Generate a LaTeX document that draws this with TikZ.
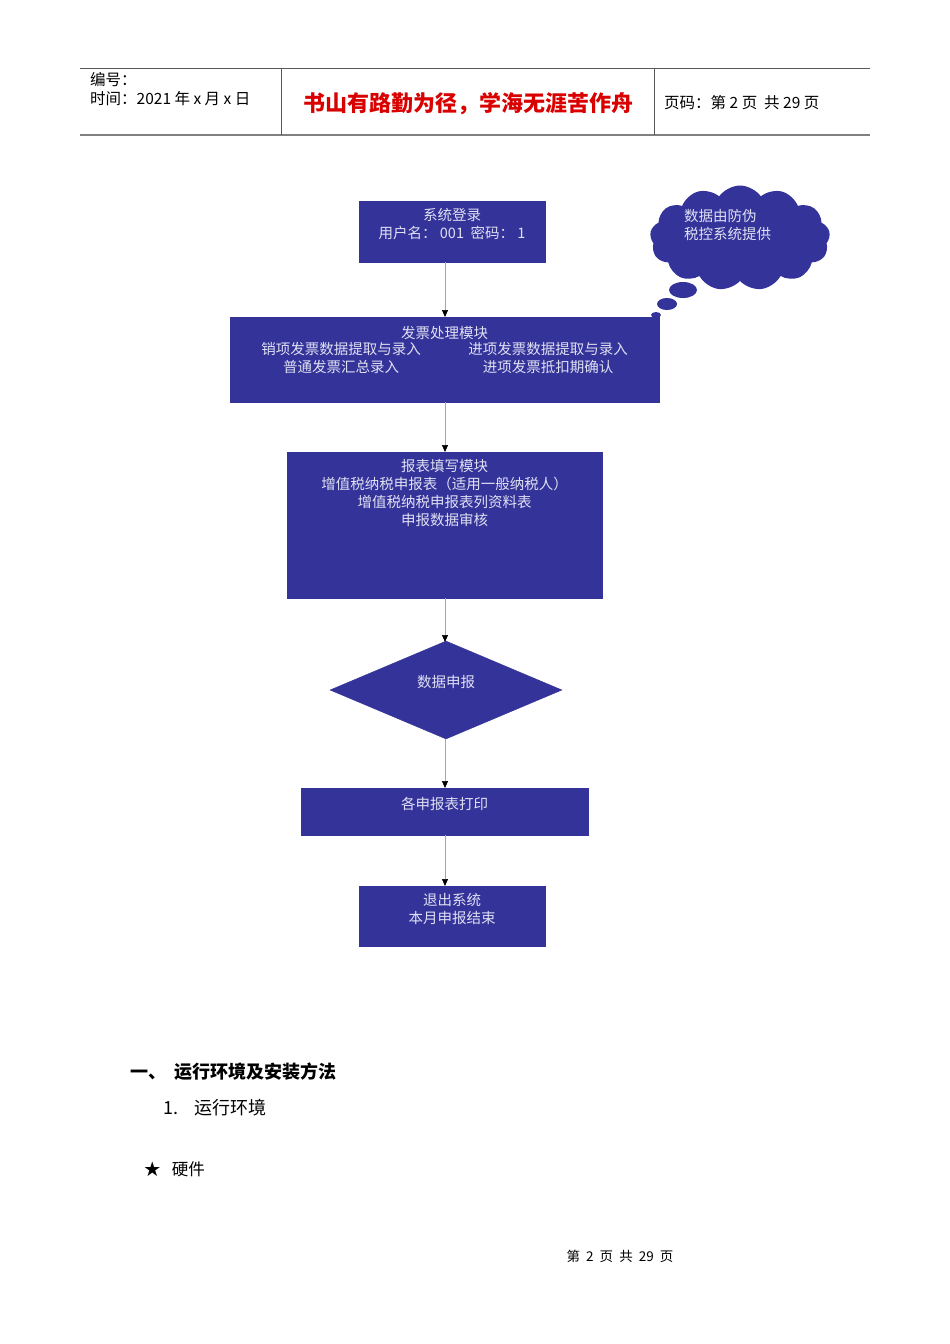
\documentclass[tikz,border=0pt]{standalone}
\usepackage{fontspec}
\setmainfont{Noto Sans CJK SC}
\usetikzlibrary{shapes.symbols,shapes.geometric,arrows.meta}
\definecolor{boxblue}{HTML}{333399}
\definecolor{boxtext}{HTML}{E0E0F4}
\tikzset{
 fbox/.style={fill=boxblue,draw=boxblue,text=boxtext,font=\fontsize{14.5}{18}\selectfont,align=center,inner sep=0pt},
 flow/.style={draw=gray!70,line width=0.6pt,-{Triangle[length=7pt,width=6pt,fill=black,color=black]}},
 hdr/.style={font=\fontsize{15.5}{19}\selectfont,anchor=west,inner sep=0pt}
}
\begin{document}
\begin{tikzpicture}[x=1pt,y=-1pt]
\useasboundingbox (0,0) rectangle (950,1344);
\fill[white] (0,0) rectangle (950,1344);
% header
\draw[line width=0.8pt,gray!70!black] (80,68) -- (870,68);
\draw[line width=1.2pt,gray] (80,135) -- (870,135);
\draw[gray!70!black] (281,68) -- (281,135) (654,68) -- (654,135);
\node[hdr] (h1) at (90,80) {编号：};
\node[hdr] (h2) at (90,99) {时间：2021 年 x 月 x 日};
\node[font=\fontsize{22}{24}\selectfont\bfseries,text=red!85!black,inner sep=0pt] (h3) at (468,104) {书山有路勤为径，学海无涯苦作舟};
\node[hdr] (h4) at (664,103) {页码：第 2 页\ \ 共 29 页};
% boxes
\node[fbox,minimum width=186,minimum height=61] (b1) at (452,231.5) {};
\node[fbox,anchor=north] at (452,208) {系统登录\\用户名：\ 001\ \ 密码：\ 1};
\node[fbox,minimum width=429,minimum height=85] (b2) at (444.5,359.5) {};
\node[fbox] at (444.5,333) {发票处理模块};
\node[fbox,anchor=north] at (341,342) {销项发票数据提取与录入\\普通发票汇总录入};
\node[fbox,anchor=north] at (548,342) {进项发票数据提取与录入\\进项发票抵扣期确认};
\node[fbox,minimum width=315,minimum height=146] (b3) at (444.5,525) {};
\node[fbox,anchor=north] at (444.5,459) {报表填写模块\\增值税纳税申报表（适用一般纳税人）\\增值税纳税申报表列资料表\\申报数据审核};
\node[fbox,diamond,minimum width=232,minimum height=98,inner sep=0pt] (b4) at (446,690) {};
\node[fbox] at (446,682) {数据申报};
\node[fbox,minimum width=287,minimum height=47] (b5) at (444.5,811.5) {};
\node[fbox] at (444.5,804) {各申报表打印};
\node[fbox,minimum width=186,minimum height=60] (b6) at (452,916) {};
\node[fbox,anchor=north] at (452,893) {退出系统\\本月申报结束};
% arrows
\draw[flow] (445,262) -- (445,317);
\draw[flow] (445,402) -- (445,452);
\draw[flow] (445,598) -- (445,642);
\draw[flow] (445,739) -- (445,788);
\draw[flow] (445,835) -- (445,886);
% cloud
\node[cloud,cloud puffs=13,cloud puff arc=110,aspect=1.7,fill=boxblue,minimum width=180,minimum height=105,inner sep=0pt] (cl) at (740,238) {};
\node[fbox,align=left,anchor=north west] at (684,209) {数据由防伪\\税控系统提供};
\fill[boxblue] (683,290) ellipse (14 and 8);
\fill[boxblue] (667,304) ellipse (10 and 6);
\fill[boxblue] (656,315) ellipse (5 and 3);
% body text
\node[font=\fontsize{18}{20}\selectfont\bfseries,anchor=west,inner sep=0pt] (s1) at (130,1072) {一、\ \ 运行环境及安装方法};
\node[font=\fontsize{18}{20}\selectfont,anchor=west,inner sep=0pt] (s2) at (163,1108) {1.\ \ \ \ 运行环境};
\node[font=\fontsize{16.5}{20}\selectfont,anchor=west,inner sep=0pt] (s3) at (144,1169) {★\ \ \ 硬件};
\node[font=\fontsize{13.5}{16}\selectfont,inner sep=0pt] (ft) at (620,1256) {第\ \ 2\ \ 页\ \ 共\ \ 29\ \ 页};
\end{tikzpicture}
\end{document}
